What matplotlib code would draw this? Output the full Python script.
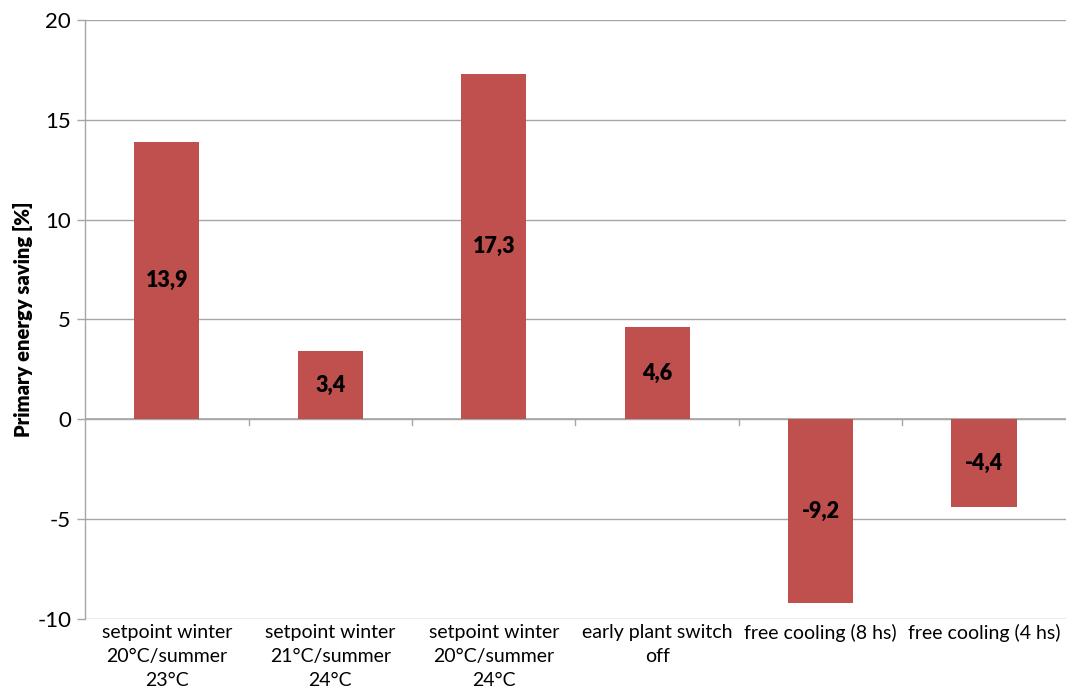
import numpy as np
import matplotlib
matplotlib.use('Agg')
import matplotlib.pyplot as plt
import matplotlib.transforms as mtransforms

plt.rcParams['font.family'] = ['Lato', 'DejaVu Sans']

categories = ['setpoint winter\n20°C/summer\n23°C',
              'setpoint winter\n21°C/summer\n24°C',
              'setpoint winter\n20°C/summer\n24°C',
              'early plant switch\noff',
              'free cooling (8 hs)',
              'free cooling (4 hs)']
savings = [13.9, 3.4, 17.3, 4.6, -9.2, -4.4]
value_labels = ['13,9', '3,4', '17,3', '4,6', '-9,2', '-4,4']

grid_c = '#a6a6a6'
bar_c = '#c0504d'

fig = plt.figure(figsize=(10.67, 6.93), dpi=100)
ax = fig.add_axes([0.0797, 0.1068, 0.9193, 0.8644])

x = np.arange(len(categories))
ax.bar(x, savings, width=0.4, color=bar_c, zorder=3)

for xi, v, lab in zip(x, savings, value_labels):
    ax.text(xi, v / 2, lab, ha='center', va='center', fontsize=15.5,
            fontweight='heavy', color='black', zorder=4)

ax.set_xlim(-0.5, len(categories) - 0.5)
ax.set_ylim(-10, 20)
ax.set_yticks(np.arange(-10, 21, 5))
ax.set_yticklabels([str(t) for t in np.arange(-10, 21, 5)], fontsize=16)
ax.yaxis.grid(True, color=grid_c, linewidth=1.0, zorder=0)
ax.tick_params(axis='y', length=6, color=grid_c, width=1.0, pad=4)

for s in ['top', 'right', 'bottom']:
    ax.spines[s].set_visible(False)
ax.spines['left'].set_color(grid_c)
ax.spines['left'].set_linewidth(1.0)

# category axis drawn at zero with small separators
ax.set_xticks([])
ax.axhline(0, color=grid_c, linewidth=1.2, zorder=2)
for b in np.arange(0.5, len(categories) - 0.5, 1):
    ax.plot([b, b], [0, -0.3], color=grid_c, linewidth=1.0, zorder=2,
            clip_on=False)

trans = mtransforms.blended_transform_factory(ax.transData, ax.transAxes)
for xi, lab in zip(x, categories):
    ax.text(xi, -0.008, lab, transform=trans, ha='center', va='top',
            fontsize=14, linespacing=1.5)

ax.set_ylabel('Primary energy saving [%]', fontsize=14.5, fontweight='heavy',
              labelpad=3)

fig.savefig('out.png', dpi=100)
